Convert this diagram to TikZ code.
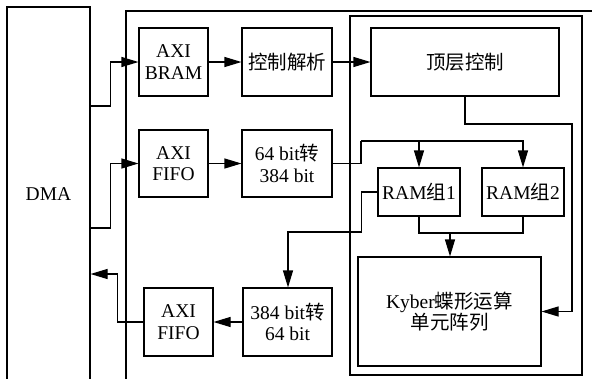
\documentclass[tikz,border=0pt]{standalone}
\usepackage{fontspec}
\setmainfont{Liberation Serif}
\newfontfamily\cjk{Noto Sans CJK SC}
\usepackage{tikz}
\usetikzlibrary{arrows.meta,positioning,calc}
\tikzset{
  bloc/.style 2 args={rectangle, draw, line width=1.1pt, align=center, inner sep=0pt,
                      minimum width=#1, minimum height=#2},
  arr/.style={-{Triangle[length=17pt,width=10pt]}, line width=1.1pt},
  ligne/.style={line width=1.1pt},
}
\begin{document}
\begin{tikzpicture}[x=1pt, y=-1pt, font=\fontsize{19.5}{21.5}\selectfont]
    \clip (0,0) rectangle (592,378);
    % cadres
    \node[bloc={83}{374}] (dma) at (48.5,194) {DMA};
    \draw[ligne] (126,11) rectangle (620,400);
    \draw[ligne] (350,16) rectangle (582,375);
    % blocs
    \node[bloc={69}{68}] (bram) at (173.5,62) {AXI\\BRAM};
    \node[bloc={90}{68}] (parse) at (287,62) {\cjk 控制解析};
    \node[bloc={188}{68}] (topc) at (465,62) {\cjk 顶层控制};
    \node[bloc={69}{67}] (fifoin) at (173.5,163.5) {AXI\\FIFO};
    \node[bloc={90}{67}] (conv1) at (287,163.5) {64 bit{\cjk 转}\\384 bit};
    \node[bloc={82}{48}] (ram1) at (419,192) {RAM{\cjk 组}1};
    \node[bloc={82}{48}] (ram2) at (523,192) {RAM{\cjk 组}2};
    \node[bloc={183}{109}] (kyber) at (449.5,311.5) {Kyber{\cjk 蝶形运算}\\{\cjk 单元阵列}};
    \node[bloc={69}{68}] (fifoout) at (178.5,322) {AXI\\FIFO};
    \node[bloc={89}{68}] (conv2) at (287.5,322) {384 bit{\cjk 转}\\64 bit};
    % points de passage
    \coordinate (split) at (361,141);
    \coordinate (rt) at (572,124);
    \coordinate (merge) at (450,233);
    \coordinate (bk) at (288,232);
    % liaisons
    \draw[arr] (dma.east |- 0,106) -- ++(20,0) |- (bram);
    \draw[arr] (dma.east |- 0,228) -- ++(20,0) |- (fifoin);
    \draw[arr] (bram) -- (parse);
    \draw[arr] (parse) -- (topc);
    \draw[arr] (fifoin) -- (conv1);
    \draw[ligne] (conv1.east) -| (split);
    \draw[arr] (split -| ram1) -- (ram1);
    \draw[arr] (split) -| (ram2);
    \draw[arr] (topc) |- (rt) |- (kyber);
    \draw[ligne] (ram1.south) |- (merge) -| (ram2.south);
    \draw[arr] (merge) -- (merge |- kyber.north);
    \draw[arr] (ram1.west) -- ++(-16,0) |- (bk) -- (bk |- conv2.north);
    \draw[arr] (conv2) -- (fifoout);
    \draw[arr] (fifoout.west) -- ++(-26,0) |- (dma.east |- 0,274);
\end{tikzpicture}
\end{document}
